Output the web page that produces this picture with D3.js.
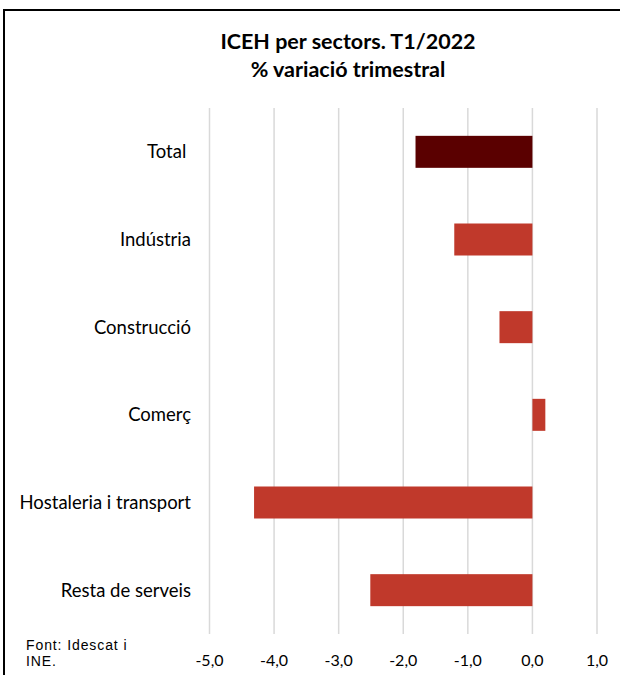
<!DOCTYPE html>
<html>
<head>
<meta charset="utf-8">
<script src="https://cdn.jsdelivr.net/npm/d3@7"></script>
<style>
  body { margin: 0; background: #fff; }
  text { font-family: Lato, "Open Sans", sans-serif; }
</style>
</head>
<body>
<div id="chart"></div>
<script>
// data
const sectors = ["Total ", "Indústria", "Construcció", "Comerç", "Hostaleria i transport", "Resta de serveis"];
const values = [-1.81, -1.21, -0.51, 0.2, -4.31, -2.51];
const ticks = [-5, -4, -3, -2, -1, 0, 1];
const titleLines = ["ICEH per sectors. T1/2022", "% variació trimestral"];
const sourceLines = ["Font: Idescat i", "INE."];

const W = 620, H = 675;
const margin = { top: 108, right: 23, bottom: 41, left: 209.5 };

const svg = d3.select("#chart").append("svg")
  .attr("width", W)
  .attr("height", H);

// outer frame
svg.append("rect")
  .attr("x", 4).attr("y", 10)
  .attr("width", 640).attr("height", 700)
  .attr("fill", "none")
  .attr("stroke", "#000")
  .attr("stroke-width", 2);

// title
svg.append("g").selectAll("text")
  .data(titleLines)
  .join("text")
  .attr("x", 348)
  .attr("y", (d, i) => 49 + i * 28)
  .attr("text-anchor", "middle")
  .attr("font-weight", "bold")
  .attr("font-size", 21.5)
  .text(d => d);

const x = d3.scaleLinear()
  .domain([-5, 1])
  .range([margin.left, W - margin.right]);

const y = d3.scaleBand()
  .domain(sectors)
  .range([margin.top, H - margin.bottom])
  .paddingInner(0.635)
  .paddingOuter(0.3175);

// gridlines
svg.append("g").selectAll("line")
  .data(ticks)
  .join("line")
  .attr("x1", d => x(d)).attr("x2", d => x(d))
  .attr("y1", margin.top).attr("y2", H - margin.bottom)
  .attr("stroke", "#d9d9d9")
  .attr("stroke-width", 1.5);

// bars
svg.append("g").selectAll("rect")
  .data(sectors)
  .join("rect")
  .attr("x", (d, i) => x(Math.min(0, values[i])))
  .attr("y", d => y(d))
  .attr("width", (d, i) => Math.abs(x(values[i]) - x(0)))
  .attr("height", y.bandwidth())
  .attr("fill", (d, i) => i === 0 ? "#5a0000" : "#c0392b");

// category labels
svg.append("g").selectAll("text")
  .data(sectors)
  .join("text")
  .attr("x", 191)
  .attr("y", d => y(d) + y.bandwidth() / 2)
  .attr("dy", "0.35em")
  .attr("text-anchor", "end")
  .attr("font-size", 18.5)
  .style("white-space", "pre")
  .text(d => d);

// x tick labels
svg.append("g").selectAll("text")
  .data(ticks)
  .join("text")
  .attr("x", d => x(d))
  .attr("y", 666)
  .attr("text-anchor", "middle")
  .attr("font-size", 16)
  .text(d => d.toFixed(1).replace(".", ","));

// source note
svg.append("g").selectAll("text")
  .data(sourceLines)
  .join("text")
  .attr("x", 26)
  .attr("y", (d, i) => 650 + i * 16)
  .style("font-family", "'Liberation Sans', Arial, sans-serif")
  .attr("font-size", 14)
  .attr("letter-spacing", 0.9)
  .text(d => d);
</script>
</body>
</html>
